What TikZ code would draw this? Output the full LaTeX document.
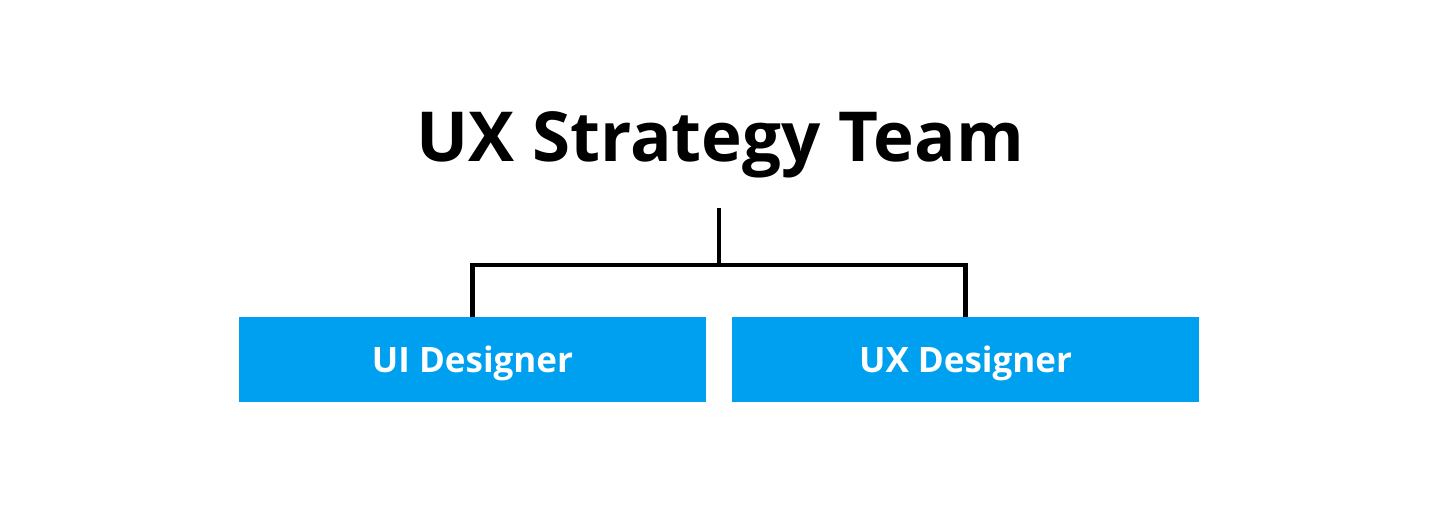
\documentclass[tikz,border=0pt]{standalone}
\usepackage{fontspec}
\setmainfont{Open Sans}
\definecolor{boxblue}{RGB}{0,160,240}
\begin{document}
\begin{tikzpicture}[x=1pt,y=-1pt,
  conn/.style={draw=black,line width=4.5pt,line cap=butt,line join=miter},
  rolebox/.style={fill=boxblue,minimum width=467pt,minimum height=85pt,inner sep=0pt,
     text height=26pt,text depth=0pt,
     text=white,font=\fontsize{35}{40}\selectfont\bfseries},
  titletext/.style={inner sep=0pt,anchor=base,font=\fontsize{69}{80}\selectfont\bfseries}]
\useasboundingbox (0,0) rectangle (1440,519);
\node[titletext] (title) at (720,161) {UX Strategy Team};
\node[rolebox] (ui) at (472.5,359.5) {UI Designer};
\node[rolebox] (ux) at (965.5,359.5) {UX Designer};
\coordinate (stem) at (719,208);
\coordinate (bus) at (719,265);
\draw[conn] (stem) -- (bus) -| (ui.north);
\draw[conn] (bus) -| (ux.north);
\end{tikzpicture}
\end{document}
